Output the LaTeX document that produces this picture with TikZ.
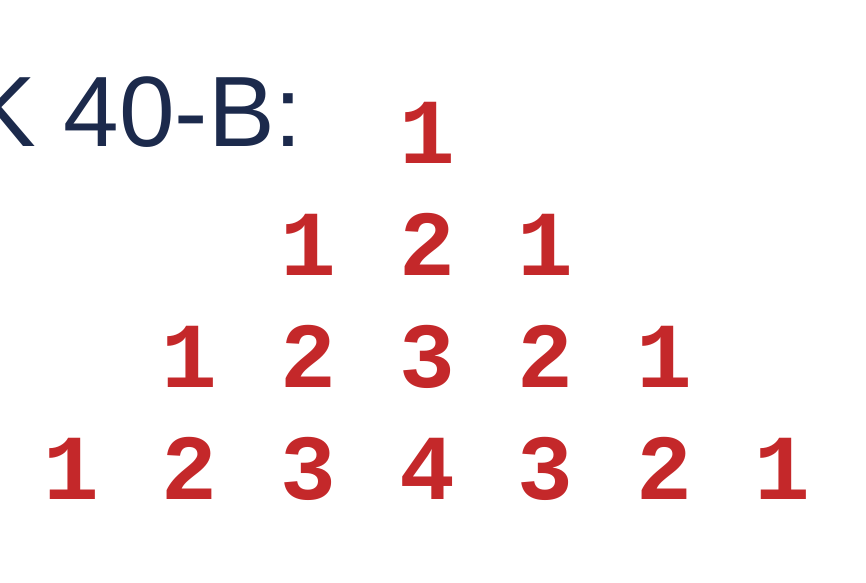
\documentclass[tikz,border=0pt]{standalone}
\usepackage{fontspec}
\setmainfont{Liberation Sans}
\newfontfamily\digitfont{Liberation Mono}
\definecolor{titleblue}{HTML}{1C2A4C}
\definecolor{digitred}{HTML}{C4282A}

\tikzset{%
  every digit/.style={
    anchor=base,
    inner sep=0pt,
    text=digitred,
    font=\digitfont\bfseries\fontsize{93}{93}\selectfont
  },
  title/.style={
    anchor=base east,
    inner sep=0pt,
    text=titleblue,
    font=\fontsize{100}{100}\selectfont
  },
}

\begin{document}
\begin{tikzpicture}[x=1pt, y=-1pt]

\useasboundingbox (0,0) rectangle (866,582);
\clip (0,0) rectangle (866,582);

% Ueberschrift
\node [title] (head) at (303,146) {K 40-B:};

% Zahlen
\foreach \row [count=\r] in {{1},{1,2,1},{1,2,3,2,1},{1,2,3,4,3,2,1}}
  \foreach \d [count=\c] in \row
    \node [every digit] (digit-\r-\c) at (427+118.6*\c-118.6*\r,163+112*\r-112) {\d};

\end{tikzpicture}
\end{document}
